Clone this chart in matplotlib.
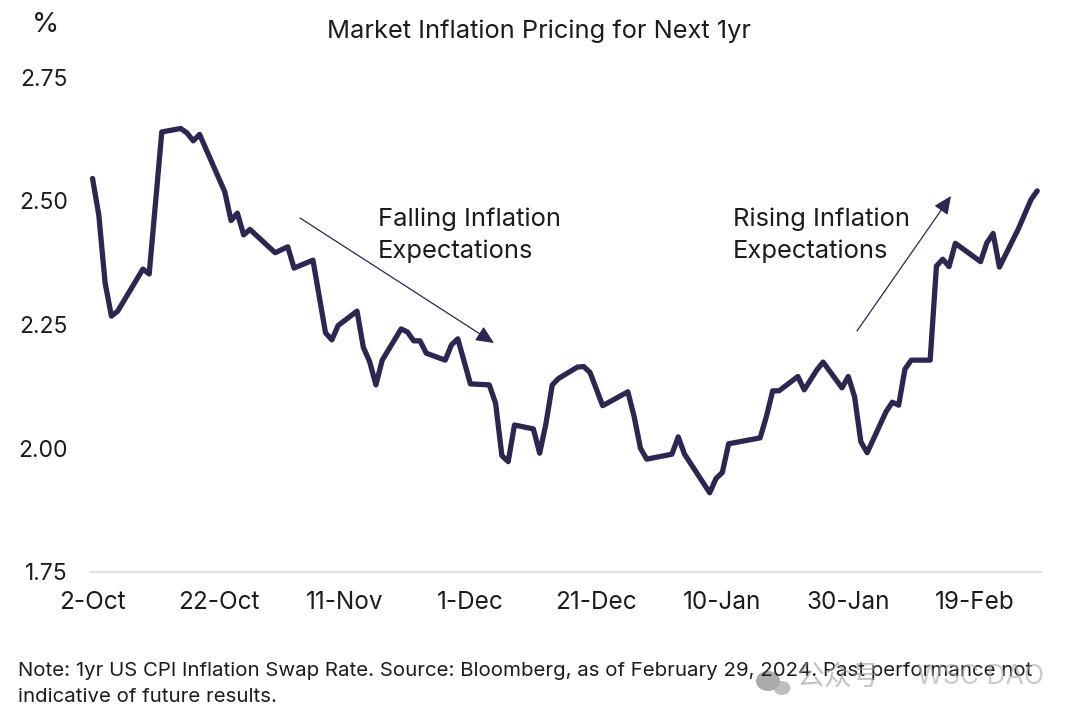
import matplotlib
matplotlib.use('Agg')
import matplotlib.pyplot as plt
from matplotlib.patches import Ellipse
import pandas as pd

plt.rcParams['font.family'] = ['Inter', 'DejaVu Sans']

start_date = '2023-10-02'
days = [0, 1, 2, 3, 4, 8, 9, 11, 14, 15, 16, 17, 21, 22, 23, 24, 25, 29, 31, 32,
        35, 37, 38, 39, 42, 43, 44, 45, 46, 49, 50, 51, 52, 53, 56, 57, 58, 60, 63, 64,
        65, 66, 67, 70, 71, 72, 73, 74, 77, 78, 79, 81, 85, 86, 87, 88, 92, 93, 94, 98,
        99, 100, 101, 106, 107, 108, 109, 112, 113, 115, 116, 119, 120, 121, 122, 123,
        126, 127, 128, 129, 130, 133, 134, 135, 136, 137, 141, 142, 143, 144, 147, 149, 150]
rate = [2.545, 2.471, 2.334, 2.267, 2.277, 2.362, 2.352, 2.639, 2.646, 2.637, 2.621, 2.634,
        2.518, 2.460, 2.475, 2.431, 2.442, 2.395, 2.407, 2.364,
        2.380, 2.233, 2.219, 2.248, 2.277, 2.204, 2.175, 2.128, 2.178, 2.241,
        2.235, 2.217, 2.217, 2.192, 2.178, 2.209, 2.221, 2.130, 2.128, 2.091,
        1.985, 1.973, 2.047, 2.039, 1.990, 2.050, 2.128, 2.141, 2.164, 2.165,
        2.153, 2.086, 2.114, 2.064, 2.000, 1.978, 1.988, 2.023, 1.988, 1.910,
        1.939, 1.951, 2.009, 2.021, 2.064, 2.116, 2.116, 2.145, 2.118, 2.158,
        2.174, 2.122, 2.145, 2.104, 2.013, 1.991, 2.074, 2.093, 2.087, 2.160,
        2.178, 2.178, 2.368, 2.382, 2.367, 2.414, 2.377, 2.415, 2.434, 2.366,
        2.443, 2.502, 2.520]
tick_days = [0, 20, 40, 60, 80, 100, 120, 140]
tick_labels = ['2-Oct', '22-Oct', '11-Nov', '1-Dec', '21-Dec', '10-Jan', '30-Jan', '19-Feb']
y_ticks = [1.75, 2.00, 2.25, 2.50, 2.75]

W, H = 1080, 720
INK = '#1c1b22'
LINE = '#2e2650'

dates = pd.Timestamp(start_date) + pd.to_timedelta(days, unit='D')
tick_dates = pd.Timestamp(start_date) + pd.to_timedelta(tick_days, unit='D')

fig = plt.figure(figsize=(W / 100, H / 100), dpi=100, facecolor='white')
ax = fig.add_axes([90 / W, 1 - 572 / H, 951 / W, 495 / H])


def px(x, y):
    # figure fraction from reference pixels
    return x / W, 1 - y / H


ax.plot(dates, rate, color=LINE, lw=3.8, solid_joinstyle='round', solid_capstyle='round')

ax.set_ylim(1.75, 2.75)
ax.set_xlim(pd.Timestamp(start_date) - pd.Timedelta(days=0.4),
            pd.Timestamp(start_date) + pd.Timedelta(days=150.6))
ax.set_yticks(y_ticks)
ax.set_yticklabels([f'{v:.2f}' for v in y_ticks])
ax.set_xticks(tick_dates)
ax.set_xticklabels(tick_labels)
ax.tick_params(axis='y', length=0, labelsize=16.5, labelcolor=INK, pad=16)
ax.tick_params(axis='x', length=0, labelsize=17.5, labelcolor=INK, pad=14)
for side in ['top', 'right', 'left']:
    ax.spines[side].set_visible(False)
ax.spines['bottom'].set_color('#dcdcdc')
ax.spines['bottom'].set_linewidth(1.2)

# annotations
arrow = dict(arrowstyle='-|>,head_length=1.1,head_width=0.5', color=LINE, lw=0.9,
             shrinkA=0, shrinkB=0)
ax.annotate('', xy=px(494, 343), xytext=px(300, 218), xycoords='figure fraction',
            textcoords='figure fraction', arrowprops=arrow)
ax.annotate('', xy=px(951, 196), xytext=px(857, 331), xycoords='figure fraction',
            textcoords='figure fraction', arrowprops=arrow)
fig.text(*px(378, 235), 'Falling Inflation\nExpectations', fontsize=18.4, color=INK,
         va='center', ha='left', linespacing=1.45)
fig.text(*px(733, 235), 'Rising Inflation\nExpectations', fontsize=18.4, color=INK,
         va='center', ha='left', linespacing=1.45)

fig.text(*px(539, 31), 'Market Inflation Pricing for Next 1yr', fontsize=18.3, color=INK,
         va='center', ha='center')
fig.text(*px(32, 25), '%', fontsize=20, color=INK, va='center', ha='left')

fig.text(*px(18, 684), 'Note: 1yr US CPI Inflation Swap Rate. Source: Bloomberg, as of February 29, 2024. '
         'Past performance not\nindicative of future results.',
         fontsize=14.7, color=INK, va='center', ha='left', linespacing=1.52)

# watermark
fig.add_artist(Ellipse(px(768, 681), 24 / W, 20 / H, transform=fig.transFigure,
                       color='#8f8f8f', alpha=0.75, lw=0))
fig.add_artist(Ellipse(px(782, 688), 17 / W, 14 / H, transform=fig.transFigure,
                       color='#a8a8a8', alpha=0.75, lw=0))
fig.text(*px(797, 677), '公众号', family=['Noto Sans CJK SC', 'DejaVu Sans'], fontsize=20,
         color='#9a9a9a', alpha=0.6, va='center', ha='left')
fig.text(*px(917, 677), 'WSC DAO', fontsize=19, color='#a8a8a8', alpha=0.6,
         va='center', ha='left')

fig.savefig('out.png', dpi=100)
